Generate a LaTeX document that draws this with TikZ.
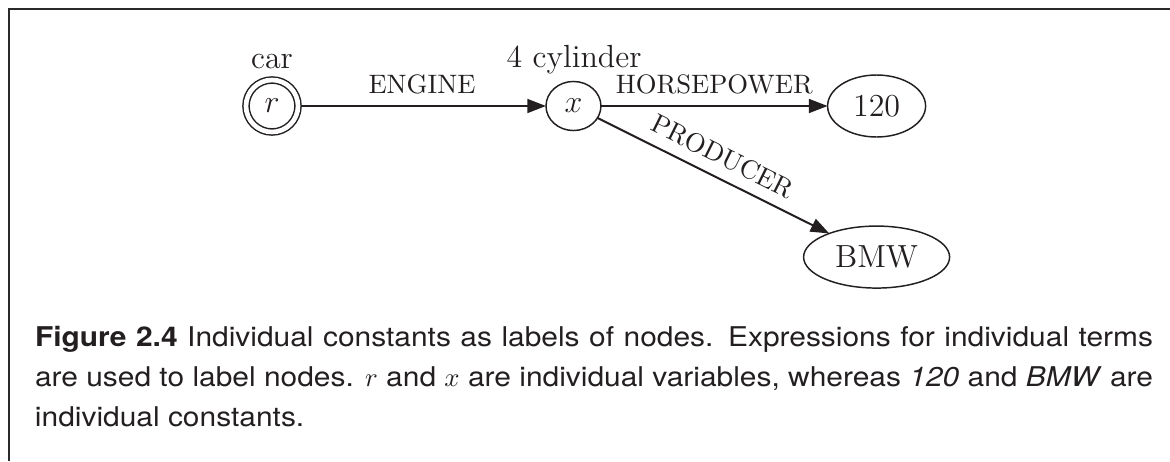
\documentclass[tikz,border=0pt]{standalone}
\usepackage{fontspec}
\usepackage{tikz}
\usetikzlibrary{arrows.meta, positioning, shapes.geometric}
\newfontfamily\capfont[FakeStretch=1.1]{TeX Gyre Heros}
\definecolor{ink}{HTML}{231F20}
\definecolor{rulegray}{HTML}{2A2A2A}

\begin{document}
\begin{tikzpicture}[
  x=0.375pt, y=-0.375pt,
  every node/.style={text=ink, outer sep=0pt},
  vnode/.style={draw=ink, ellipse, line width=0.55pt, inner sep=0pt, font=\fontsize{12}{14}\selectfont},
  root/.style={vnode, circle, minimum size=19.5pt, double=white, double distance=1.75pt},
  const/.style={vnode, minimum height=23.25pt},
  rel/.style={draw=ink, line width=0.75pt, ->},
  rlabel/.style={font=\fontsize{10}{11}\selectfont, inner sep=0pt, above=4.5pt},
  tag/.style={font=\fontsize{12}{14}\selectfont, inner sep=0pt, anchor=base},
  >={Triangle[length=7pt, width=5.2pt]}
]
\useasboundingbox (0,0) rectangle (1170,461);
\draw[rulegray, line width=0.75pt] (1170,9) -- (9,9) -- (9,461);

\node[root] (r) at (272,106) {$r$};
\node[vnode, minimum width=20.6pt, minimum height=18.4pt, right=93pt of r] (x) {$x$};
\node[const, minimum width=36.75pt, right=85pt of x] (hp) {120};
\node[const, minimum width=54.75pt, below=33.4pt of hp] (bmw) {BMW};

\node[tag] (carlbl) at (272,68) {car};
\node[tag] (cyllbl) at (574,67) {4 cylinder};

\draw[rel, shorten <=1.1pt] (r) -- node[rlabel] (englbl) {ENGINE} (x);
\draw[rel] (x) -- node[rlabel] (hplbl) {HORSEPOWER} (hp);
\draw[rel] (x) -- node[rlabel, sloped] (prodlbl) {PRODUCER} (bmw);

\node[anchor=base west, inner sep=0pt, text width=419.25pt, align=justify,
  font=\capfont\fontsize{10.2}{15}\selectfont] (caption) at (35,346)
  {\textbf{Figure 2.4} Individual constants as labels of nodes. Expressions for individual terms\linebreak
   are used to label nodes. $r$ and $x$ are individual variables, whereas \textit{120} and \textit{BMW} are\linebreak
   individual constants.};
\end{tikzpicture}
\end{document}
